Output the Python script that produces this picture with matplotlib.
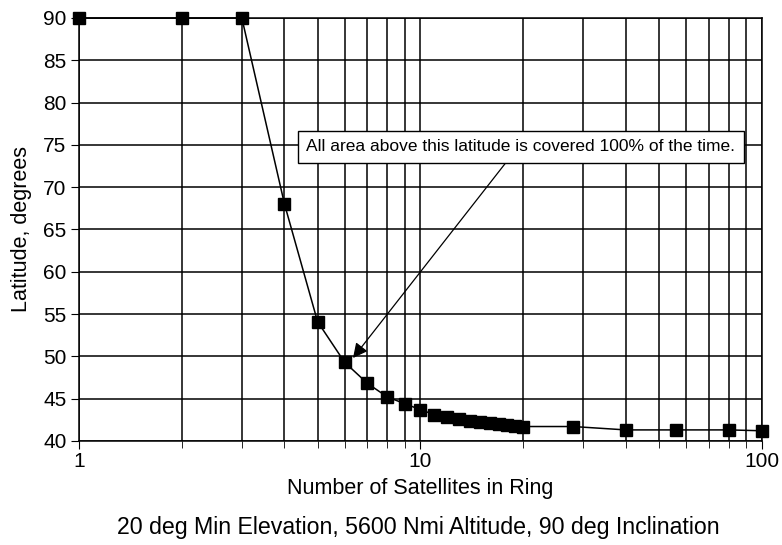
"""
Latitude of continuous coverage vs. ring size.
"""

import numpy as np
import matplotlib
matplotlib.use('Agg')
import matplotlib.pyplot as plt
from matplotlib.ticker import LogLocator, FixedLocator, NullFormatter

# satellites per ring and the latitude above which coverage is 100%
n_sats = [1, 2, 3, 4, 5, 6, 7, 8, 9, 10, 11, 12, 13, 14, 15, 16, 17, 18,
          19, 20, 28, 40, 56, 80, 100]
latitude = [90, 90, 90, 68, 54.1, 49.3, 46.8, 45.2, 44.4, 43.7, 43.1, 42.8,
            42.6, 42.4, 42.2, 42.1, 42.0, 41.9, 41.8, 41.7, 41.7, 41.3, 41.3,
            41.3, 41.2]
y_ticks = [40, 45, 50, 55, 60, 65, 70, 75, 80, 85, 90]
x_ticks = [1, 10, 100]

note = "All area above this latitude is covered 100% of the time."
subtitle = "20 deg Min Elevation, 5600 Nmi Altitude, 90 deg Inclination"

plt.rcParams['font.family'] = ['Liberation Sans', 'DejaVu Sans']

fig = plt.figure(figsize=(7.82, 5.45), dpi=100)
ax = fig.add_axes([0.101, 0.191, 0.873, 0.776])

ax.plot(n_sats, latitude, color='black', lw=1.1, marker='s', ms=8,
        mfc='black', mec='black', clip_on=False, zorder=5)

ax.set_xscale('log')
ax.set_xlim(1, 100)
ax.set_ylim(40, 90)
ax.set_yticks(y_ticks)
ax.xaxis.set_major_locator(FixedLocator(x_ticks))
ax.set_xticklabels([str(v) for v in x_ticks])
ax.xaxis.set_minor_locator(LogLocator(base=10, subs=np.arange(2, 10)))
ax.xaxis.set_minor_formatter(NullFormatter())

ax.grid(True, which='major', color='black', lw=1.1)
ax.grid(True, which='minor', axis='x', color='black', lw=1.1)
for s in ax.spines.values():
    s.set_color('black')
    s.set_linewidth(1.1)

ax.tick_params(axis='y', which='major', labelsize=15, length=6,
               direction='out', color='black', pad=3)
ax.tick_params(axis='x', which='major', labelsize=15, length=6,
               direction='out', color='black', pad=2)
ax.tick_params(axis='x', which='minor', length=5, direction='out')

ax.set_xlabel("Number of Satellites in Ring", fontsize=15.5, labelpad=5)
ax.set_ylabel("Latitude, degrees", fontsize=15.5, labelpad=8)

ax.annotate(note, xy=(6.35, 49.8), xytext=(19.7, 74.75),
            fontsize=12.5, ha='center', va='center',
            bbox=dict(boxstyle='square,pad=0.5', fc='white', ec='black',
                      lw=1.0),
            arrowprops=dict(arrowstyle='-|>', color='black', lw=0.9,
                            mutation_scale=22, shrinkA=0, shrinkB=0,
                            relpos=(0.48, 0.0)),
            zorder=6)

fig.text(0.535, 0.033, subtitle, fontsize=16.7, ha='center', va='center')

fig.savefig('out.png', dpi=100)
